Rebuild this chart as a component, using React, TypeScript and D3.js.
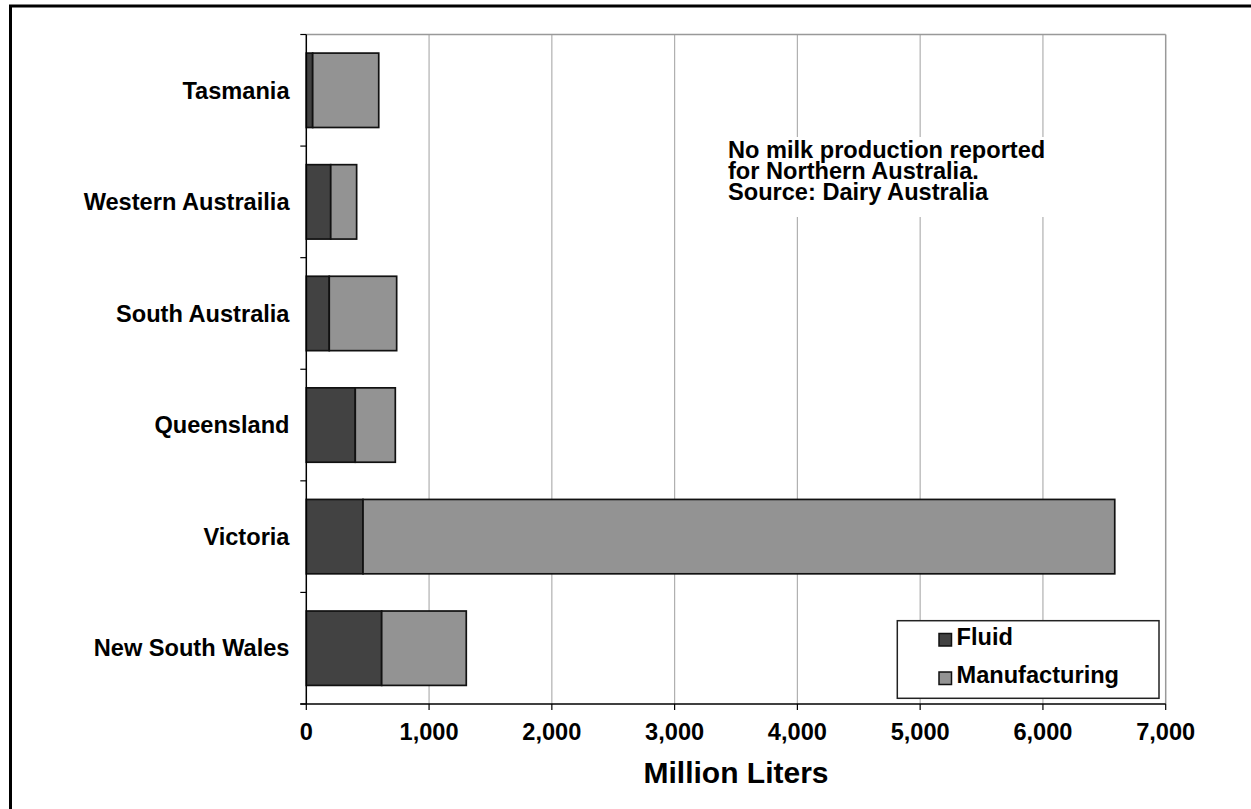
import React from "react";
import * as d3 from "d3";

// Milk production by state, million liters (listed bottom to top)
const states = [
  "New South Wales",
  "Victoria",
  "Queensland",
  "South Australia",
  "Western Austrailia",
  "Tasmania",
];
const fluid = [614, 462, 399, 187, 199, 52];
const manufacturing = [689, 6123, 326, 549, 211, 538];
const seriesNames = ["Fluid", "Manufacturing"];
const seriesColors = ["#424242", "#939393"];
const xTicks = [0, 1000, 2000, 3000, 4000, 5000, 6000, 7000];
const noteLines = [
  "No milk production reported",
  "for Northern Australia.",
  "Source: Dairy Australia",
];

const W = 1251;
const H = 809;
const FONT = "'Liberation Sans', Arial, Helvetica, sans-serif";
const FS = 23.6;

export default function App() {
  const left = 306.3;
  const right = 1165.7;
  const top = 34.5;
  const bottom = 704;

  const x = d3.scaleLinear().domain([0, 7000]).range([left, right]);
  const y = d3
    .scaleBand<string>()
    .domain([...states].reverse())
    .range([top, bottom])
    .paddingInner(1 / 3)
    .paddingOuter(1 / 6);

  const rows = states.map((s, i) => ({
    state: s,
    Fluid: fluid[i],
    Manufacturing: manufacturing[i],
  }));
  const stacked = d3.stack<any>().keys(seriesNames)(rows);
  const fmt = d3.format(",");
  const step = y.step();
  const boundaries = d3.range(states.length + 1).map((k) => top + k * step);

  return (
    <svg
      width={W}
      height={H}
      style={{ position: "absolute", left: 0, top: 0, display: "block", background: "#fff" }}
      fontFamily={FONT}
    >
      {/* outer frame, running off the right and bottom edges */}
      <rect x={10.5} y={6} width={W + 50} height={H + 50} fill="#fff" stroke="#000" strokeWidth={3} />

      {/* vertical gridlines */}
      {xTicks.slice(1, -1).map((t) => (
        <line key={t} x1={x(t)} x2={x(t)} y1={top} y2={bottom} stroke="#b0b0b0" strokeWidth={1.2} />
      ))}
      {/* plot border top/right */}
      <line x1={left} x2={right} y1={top} y2={top} stroke="#999" strokeWidth={1.5} />
      <line x1={right} x2={right} y1={top} y2={bottom} stroke="#999" strokeWidth={1.5} />

      {/* note box with white background */}
      <rect x={718} y={137} width={334} height={80} fill="#fff" />
      <text fontSize={FS} fontWeight="bold" fill="#000">
        {noteLines.map((l, i) => (
          <tspan key={i} x={728} y={157.7 + i * 21.3}>
            {l}
          </tspan>
        ))}
      </text>

      {/* stacked bars */}
      {stacked.map((layer, si) => (
        <g key={layer.key} fill={seriesColors[si]} stroke="#111" strokeWidth={1.7}>
          {layer.map((d, i) => (
            <rect
              key={i}
              x={x(d[0])}
              y={y(d.data.state)}
              width={x(d[1]) - x(d[0])}
              height={y.bandwidth()}
            />
          ))}
        </g>
      ))}

      {/* y axis */}
      <line x1={left} x2={left} y1={top} y2={bottom} stroke="#000" strokeWidth={1.5} />
      {boundaries.map((b, i) => (
        <line key={i} x1={left - 6} x2={left} y1={b} y2={b} stroke="#000" strokeWidth={1.2} />
      ))}
      {states.map((s) => (
        <text
          key={s}
          x={289.5}
          y={(y(s) as number) + y.bandwidth() / 2}
          dy="0.35em"
          textAnchor="end"
          fontSize={FS}
          fontWeight="bold"
        >
          {s}
        </text>
      ))}

      {/* x axis */}
      <line x1={left - 6} x2={right} y1={bottom} y2={bottom} stroke="#000" strokeWidth={1.5} />
      {xTicks.map((t) => (
        <g key={t}>
          <line x1={x(t)} x2={x(t)} y1={bottom} y2={bottom + 6} stroke="#000" strokeWidth={1.2} />
          <text x={x(t)} y={740} textAnchor="middle" fontSize={FS} fontWeight="bold">
            {fmt(t)}
          </text>
        </g>
      ))}
      <text x={(left + right) / 2} y={783.3} textAnchor="middle" fontSize={30} fontWeight="bold">
        Million Liters
      </text>

      {/* legend */}
      <rect x={897.3} y={620.7} width={261.7} height={77.6} fill="#fff" stroke="#222" strokeWidth={1.5} />
      {seriesNames.map((n, i) => (
        <g key={n}>
          <rect
            x={939}
            y={633.5 + i * 38.5}
            width={12.5}
            height={12.5}
            fill={seriesColors[i]}
            stroke="#111"
            strokeWidth={1.5}
          />
          <text x={956.5} y={645 + i * 38} fontSize={FS} fontWeight="bold">
            {n}
          </text>
        </g>
      ))}
    </svg>
  );
}
